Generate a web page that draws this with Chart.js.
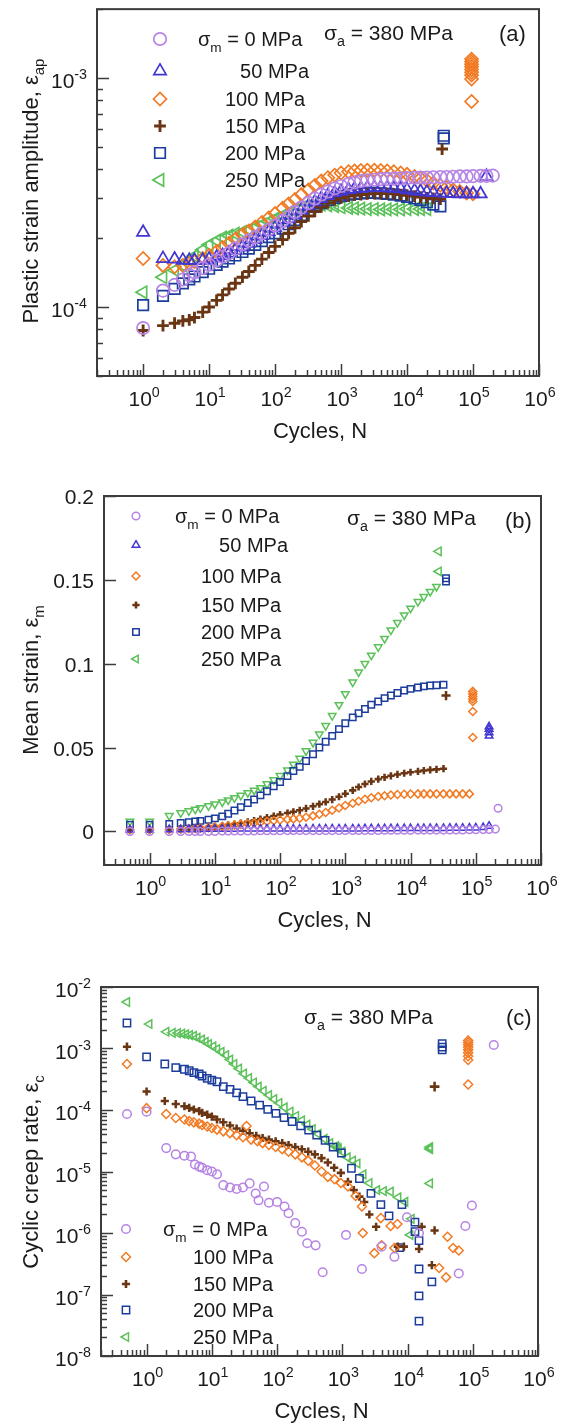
<!DOCTYPE html>
<html>
<head>
<meta charset="utf-8">
<title>Cyclic creep, σa = 380 MPa</title>
<script src="https://cdn.jsdelivr.net/npm/chart.js@4.4.1/dist/chart.umd.min.js"></script>
<style>
  html, body { margin: 0; padding: 0; background: #fff; }
  #page { position: relative; width: 565px; height: 1426px; overflow: hidden; }
  #page canvas { position: absolute; left: 0; }
</style>
</head>
<body>
<div id="page">
  <canvas id="chartA"></canvas>
  <canvas id="chartB"></canvas>
  <canvas id="chartC"></canvas>
</div>
<script>
// ---------------------------------------------------------------
// Data
// ---------------------------------------------------------------

// (a) plastic strain amplitude, values in units of 1e-4
const AMP_UNIT = 1e-4;
const cyclesA = [1, 2, 3, 4, 5, 6, 8, 10, 13, 16, 20, 25, 32, 40, 50, 63, 80, 100, 130, 160,
  200, 250, 320, 400, 500, 630, 800, 1000, 1300, 1600, 2000, 2500, 3200, 4000, 5000, 6300, 8000,
  10000, 13000, 16000, 20000, 25000, 32000, 40000, 50000, 63000, 80000, 100000, 130000, 160000, 200000];
const ampS0 = [0.81, 1.18, 1.25, 1.32, 1.38, 1.42, 1.48, 1.53, 1.6, 1.66, 1.72, 1.8, 1.88, 1.95, 2.02, 2.1,
  2.18, 2.27, 2.38, 2.48, 2.6, 2.72, 2.85, 2.98, 3.1, 3.2, 3.3, 3.38, 3.45, 3.5, 3.55, 3.58, 3.6, 3.62,
  3.63, 3.64, 3.65, 3.66, 3.67, 3.68, 3.68, 3.69, 3.7, 3.7, 3.71, 3.72, 3.72, 3.73, 3.74, 3.74, 3.75];
const ampS50 = [2.12, 1.63, 1.62, 1.6, 1.6, 1.6, 1.6, 1.62, 1.65, 1.68, 1.72, 1.77, 1.83, 1.9, 1.97, 2.05,
  2.13, 2.22, 2.33, 2.43, 2.53, 2.65, 2.77, 2.88, 2.98, 3.07, 3.15, 3.2, 3.25, 3.28, 3.3, 3.32, 3.33, 3.33,
  3.32, 3.3, 3.28, 3.25, 3.22, 3.2, 3.18, 3.16, 3.15, 3.14, 3.13, 3.12, 3.12, 3.12, 3.12, 3.72, null];
const ampS100 = [1.63, 1.52, 1.5, 1.52, 1.55, 1.58, 1.63, 1.68, 1.75, 1.82, 1.9, 1.98, 2.07, 2.15, 2.24, 2.34,
  2.45, 2.56, 2.7, 2.82, 2.95, 3.1, 3.25, 3.4, 3.55, 3.67, 3.77, 3.85, 3.9, 3.93, 3.95, 3.96, 3.96, 3.95,
  3.93, 3.9, 3.85, 3.8, 3.72, 3.65, 3.57, 3.48, 3.4, 3.33, 3.25, 3.2, 3.15, 3.12, null, null, null];
const ampS150 = [0.79, 0.83, 0.85, 0.87, 0.88, 0.9, 0.95, 1.0, 1.07, 1.13, 1.2, 1.27, 1.35, 1.43, 1.52, 1.62,
  1.73, 1.84, 1.97, 2.1, 2.22, 2.36, 2.5, 2.62, 2.74, 2.85, 2.94, 3.0, 3.05, 3.08, 3.1, 3.12, 3.13, 3.13,
  3.13, 3.12, 3.1, 3.08, 3.05, 3.02, 3.0, 2.98, 2.96, null, null, null, null, null, null, null, null];
const ampS200 = [1.02, 1.12, 1.2, 1.27, 1.32, 1.36, 1.42, 1.47, 1.53, 1.58, 1.63, 1.68, 1.74, 1.8, 1.87, 1.94,
  2.02, 2.1, 2.2, 2.3, 2.4, 2.52, 2.63, 2.74, 2.84, 2.93, 3.0, 3.05, 3.1, 3.12, 3.14, 3.15, 3.15, 3.14,
  3.12, 3.1, 3.07, 3.03, 2.98, 2.93, 2.87, 2.8, 2.75, null, null, null, null, null, null, null, null];
const ampS250 = [1.16, 1.35, 1.45, 1.52, 1.6, 1.67, 1.78, 1.87, 1.95, 2.01, 2.05, 2.09, 2.13, 2.18, 2.23, 2.29,
  2.36, 2.43, 2.51, 2.59, 2.66, 2.72, 2.77, 2.8, 2.8, 2.78, 2.76, 2.73, 2.71, 2.7, 2.69, 2.68, 2.68, 2.67,
  2.67, 2.67, 2.67, 2.68, 2.68, 2.68, 2.68, null, null, null, null, null, null, null, null, null, null];
// last cycles before failure
const ampEnd100N = 95000, ampEnd100 = [7.9, 9.9, 10.3, 10.6, 10.9, 11.2, 11.5, 11.8, 12.1];
const ampEnd150N = 34000, ampEnd150 = [4.9];
const ampEnd200N = 36000, ampEnd200 = [5.45, 5.6];

// (b) mean strain
const cyclesB = [0.5, 1, 2, 3, 4, 5, 6, 8, 10, 13, 16, 20, 25, 32, 40, 50, 63, 80, 100, 130, 160, 200, 250,
  320, 400, 500, 630, 800, 1000, 1300, 1600, 2000, 2500, 3200, 4000, 5000, 6300, 8000, 10000, 13000,
  16000, 20000, 25000, 32000, 40000, 50000, 63000, 80000, 100000, 130000, 160000, 200000];
const meanS0 = [0, 0, 0, 0, 0, 0, 0, 0, 0, 0.0002, 0.0002, 0.0003, 0.0003, 0.0003, 0.0003, 0.0004, 0.0004,
  0.0004, 0.0004, 0.0005, 0.0005, 0.0005, 0.0005, 0.0005, 0.0005, 0.0005, 0.0005, 0.0005, 0.0006, 0.0006,
  0.0006, 0.0006, 0.0006, 0.0006, 0.0007, 0.0007, 0.0007, 0.0007, 0.0007, 0.0008, 0.0008, 0.0008, 0.0008,
  0.0008, 0.0009, 0.0009, 0.0009, 0.001, 0.001, 0.0011, 0.0012, 0.0014];
const meanS50 = [0.001, 0.001, 0.0012, 0.0012, 0.0013, 0.0013, 0.0013, 0.0014, 0.0014, 0.0014, 0.0014, 0.0014,
  0.0015, 0.0015, 0.0015, 0.0015, 0.0015, 0.0015, 0.0015, 0.0015, 0.0015, 0.0015, 0.0016, 0.0016, 0.0016,
  0.0016, 0.0016, 0.0016, 0.0016, 0.0016, 0.0016, 0.0017, 0.0017, 0.0017, 0.0017, 0.0017, 0.0018, 0.0018,
  0.0018, 0.0018, 0.0018, 0.0019, 0.0019, 0.0019, 0.002, 0.002, 0.002, 0.0021, 0.0022, 0.0024, 0.0032, null];
const meanS100 = [0.001, 0.001, 0.0012, 0.0014, 0.0016, 0.0018, 0.002, 0.0023, 0.0026, 0.003, 0.0034, 0.0038,
  0.0042, 0.0046, 0.005, 0.0054, 0.0059, 0.0064, 0.0068, 0.0072, 0.0075, 0.0079, 0.0085, 0.0093, 0.0103,
  0.0113, 0.0126, 0.014, 0.0155, 0.0168, 0.018, 0.0192, 0.0201, 0.0208, 0.0213, 0.0217, 0.022, 0.0222,
  0.0223, 0.0224, 0.0224, 0.0224, 0.0224, 0.0224, 0.0224, 0.0224, 0.0224, 0.0224, null, null, null, null];
const meanS150 = [0.001, 0.001, 0.0012, 0.0015, 0.0018, 0.002, 0.0022, 0.0026, 0.003, 0.0034, 0.0039, 0.0044,
  0.005, 0.0057, 0.0065, 0.0074, 0.0083, 0.0092, 0.0101, 0.011, 0.0117, 0.0126, 0.0137, 0.015, 0.0163,
  0.0176, 0.019, 0.0207, 0.0225, 0.0245, 0.0265, 0.0283, 0.0298, 0.0312, 0.0323, 0.0332, 0.034, 0.0347,
  0.0353, 0.0358, 0.0363, 0.0367, 0.037, 0.0374, null, null, null, null, null, null, null, null];
const meanS200 = [0.004, 0.004, 0.0045, 0.005, 0.0055, 0.006, 0.0063, 0.007, 0.0078, 0.009, 0.0105, 0.0125,
  0.0145, 0.017, 0.019, 0.0215, 0.024, 0.027, 0.0295, 0.033, 0.036, 0.0385, 0.042, 0.046, 0.05, 0.0535,
  0.057, 0.061, 0.0645, 0.068, 0.0705, 0.073, 0.0755, 0.0775, 0.0795, 0.081, 0.0825, 0.084, 0.085, 0.0858,
  0.0865, 0.087, 0.0872, 0.0875, null, null, null, null, null, null, null, null];
const meanS250 = [0.006, 0.006, 0.0094, 0.011, 0.0122, 0.0132, 0.014, 0.0152, 0.0163, 0.0175, 0.0187, 0.02,
  0.0215, 0.023, 0.0245, 0.026, 0.0283, 0.0307, 0.0332, 0.0365, 0.04, 0.0435, 0.048, 0.053, 0.058, 0.063,
  0.069, 0.0755, 0.082, 0.089, 0.095, 0.1, 0.105, 0.11, 0.115, 0.12, 0.1245, 0.129, 0.133, 0.137, 0.14,
  0.143, 0.146, null, null, null, null, null, null, null, null, null];
const meanEnd0N = 220000, meanEnd0 = [0.0138];
const meanEnd50N = 160000, meanEnd50 = [0.057, 0.059, 0.061, 0.0625];
const meanEnd100N = 90000, meanEnd100 = [0.056, 0.0715, 0.0775, 0.079, 0.0805, 0.082, 0.0835];
const meanEnd150N = 35000, meanEnd150 = [0.081];
const meanEnd200N = 35000, meanEnd200 = [0.149, 0.151];
const meanEnd250N = 27000, meanEnd250 = [0.155, 0.167];

// (c) cyclic creep rate
const rateS0N = [0.5, 1, 2, 2.8, 3.8, 4.8, 5.5, 6.4, 7.1, 8.5, 10, 12, 15, 19, 24, 30, 38, 47, 52, 63, 75, 100,
  130, 150, 190, 240, 290, 390, 500, 1140, 2000, 4000, 6300, 9800, 15000, 61000, 77000, 97000];
const rateS0 = [8.6e-5, 9.4e-5, 2.4e-5, 1.9e-5, 1.8e-5, 1.75e-5, 1.3e-5, 1.2e-5, 1.15e-5, 1.05e-5, 1.0e-5,
  9e-6, 6e-6, 5.5e-6, 5.2e-6, 5.5e-6, 6.4e-6, 4.4e-6, 3.4e-6, 5.7e-6, 3.1e-6, 3.2e-6, 2.7e-6, 2.1e-6,
  1.45e-6, 1.05e-6, 6.8e-7, 6.3e-7, 2.3e-7, 9.3e-7, 2.6e-7, 6e-7, 4.1e-7, 1.8e-6, 1e-6, 2.2e-7, 1.3e-6, 2.8e-6];
const rateS100N = [0.5, 1, 2, 2.8, 3.8, 4.5, 5.3, 6.4, 7.1, 8.5, 10, 12, 15, 19, 24, 30, 34, 40, 50, 60, 75, 95,
  120, 150, 190, 240, 300, 380, 480, 600, 760, 950, 1220, 1600, 2000, 2060, 3100, 3900, 4000, 5500, 6300,
  7000, 30500, 39000, 41000, 50000, 61000];
const rateS100 = [5.6e-4, 1.07e-4, 8.6e-5, 7.4e-5, 7e-5, 6.6e-5, 6.3e-5, 6e-5, 5.7e-5, 5.4e-5, 5.1e-5, 4.8e-5,
  4.5e-5, 4.2e-5, 3.9e-5, 3.6e-5, 5.5e-5, 3.3e-5, 3.1e-5, 2.9e-5, 2.7e-5, 2.5e-5, 2.3e-5, 2.1e-5, 1.9e-5,
  1.7e-5, 1.5e-5, 1.25e-5, 1.0e-5, 8.2e-6, 7.5e-6, 6.5e-6, 5.7e-6, 4e-6, 2.7e-6, 1.0e-6, 4.7e-7, 1.75e-6,
  6.3e-7, 1.3e-6, 5.7e-7, 1.4e-6, 2.7e-7, 1.9e-7, 8.7e-7, 5.7e-7, 5.2e-7];
const rateS150N = [0.5, 1, 1.9, 2.8, 3.8, 4.5, 5.3, 6.4, 7.1, 8.5, 10, 12, 15, 19, 24, 30, 38, 48, 60, 75, 95,
  120, 150, 190, 240, 300, 380, 480, 600, 750, 950, 1220, 1500, 1830, 2170, 2600, 3300, 7100, 8800, 15000,
  16500, 23600, 26000];
const rateS150 = [1.07e-3, 2.0e-4, 1.4e-4, 1.25e-4, 1.15e-4, 1.08e-4, 1.02e-4, 9.6e-5, 9e-5, 8.4e-5, 7.8e-5,
  7e-5, 6.3e-5, 5.6e-5, 5e-5, 4.6e-5, 4.2e-5, 3.8e-5, 3.5e-5, 3.3e-5, 3.1e-5, 2.9e-5, 2.7e-5, 2.5e-5, 2.3e-5,
  2.1e-5, 1.9e-5, 1.65e-5, 1.4e-5, 1.15e-5, 9.5e-6, 6.8e-6, 5e-6, 3.9e-6, 3.2e-6, 2e-6, 1.26e-6, 6e-7, 6e-7,
  5.5e-7, 1.26e-6, 3e-7, 1.1e-6];
const rateS200N = [0.5, 1, 1.9, 2.8, 3.8, 4.5, 5.3, 6.4, 7.1, 8.5, 10, 12, 15, 19, 24, 30, 40, 54, 72, 96, 128,
  170, 230, 305, 405, 545, 725, 970, 1380, 1830, 2750, 3900, 5200, 8200, 13000, 13000, 15000, 7600, 15000,
  23600, 15000, 15000];
const rateS200 = [2.6e-3, 7.3e-4, 5.6e-4, 4.9e-4, 4.6e-4, 4.35e-4, 4.05e-4, 3.85e-4, 3.57e-4, 3.27e-4, 3.07e-4,
  2.88e-4, 2.4e-4, 2.17e-4, 1.9e-4, 1.65e-4, 1.4e-4, 1.2e-4, 1.02e-4, 8.8e-5, 7.5e-5, 6.5e-5, 5.5e-5, 4.7e-5,
  3.9e-5, 3.2e-5, 2.5e-5, 2.0e-5, 1.13e-5, 7.7e-6, 4.4e-6, 2.9e-6, 1.9e-6, 2.9e-6, 1.5e-6, 1.05e-6, 7.5e-7,
  5.8e-7, 2.6e-7, 1.6e-7, 9.5e-8, 3.7e-8];
const rateS250N = [0.5, 1.1, 2, 2.5, 3, 3.5, 4, 4.6, 5.3, 6, 7, 8, 9, 10.5, 12, 14, 16.5, 19, 22, 26, 31, 37,
  44, 52, 62, 75, 90, 108, 130, 160, 195, 240, 290, 350, 430, 530, 650, 800, 840, 880, 1000, 1200, 1450,
  1700, 2100, 2600, 3400, 4300, 5500, 7200, 9200, 11500, 11000];
const rateS250 = [5.7e-3, 2.5e-3, 1.87e-3, 1.8e-3, 1.78e-3, 1.75e-3, 1.7e-3, 1.65e-3, 1.6e-3, 1.5e-3, 1.4e-3,
  1.28e-3, 1.18e-3, 1.08e-3, 9.8e-4, 8.8e-4, 7.8e-4, 6.6e-4, 5.6e-4, 4.7e-4, 3.9e-4, 3.3e-4, 2.8e-4, 2.4e-4,
  2.05e-4, 1.75e-4, 1.5e-4, 1.3e-4, 1.1e-4, 9.4e-5, 8e-5, 6.8e-5, 5.8e-5, 4.9e-5, 4.1e-5, 3.4e-5, 2.9e-5,
  2.6e-5, 2.45e-5, 2.35e-5, 2.1e-5, 1.7e-5, 1.5e-5, 1.35e-5, 9e-6, 6.5e-6, 5e-6, 4.8e-6, 4.7e-6, 3.8e-6,
  3.2e-6, 1.7e-6, 9.3e-7];
const rateEnd0N = 210000, rateEnd0 = [1.14e-3];
const rateEnd100N = 85000, rateEnd100 = [2.6e-4, 6.5e-4, 7.5e-4, 8.5e-4, 9.5e-4, 1.05e-3, 1.15e-3, 1.25e-3, 1.35e-3];
const rateEnd150N = 26000, rateEnd150 = [2.4e-4];
const rateEnd200N = 34000, rateEnd200 = [9.5e-4, 1.05e-3, 1.2e-3];
const rateEnd250N = 22000, rateEnd250 = [6.4e-6, 2.3e-5, 2.4e-5, 2.5e-5];

// axis ticks
const xLabelExps = [0, 1, 2, 3, 4, 5, 6];
const ampLabelExps = [-4, -3];
const rateLabelExps = [-8, -7, -6, -5, -4, -3, -2];
const meanTicks = [0, 0.05, 0.1, 0.15, 0.2];
const meanTickLabels = ['0', '0.05', '0.1', '0.15', '0.2'];

// ---------------------------------------------------------------
// Styling
// ---------------------------------------------------------------
const FONT = '"Liberation Sans", Arial, Helvetica, sans-serif';
const INK = '#1b1b1b';
const AXIS = '#3c3c3c';

const MARKERS = {
  s0:   { color: '#b684e4', pointStyle: 'circle',   k: 1.0 },
  s50:  { color: '#4236d2', pointStyle: 'triangle', k: 1.15 },
  s100: { color: '#f27a22', pointStyle: 'rectRot',  k: 1.05 },
  s150: { color: '#6a3512', pointStyle: 'cross',    k: 0.95, wide: 1.7 },
  s200: { color: '#1d3d9c', pointStyle: 'rect',     k: 1.2 },
  s250: { color: '#5cc15a', pointStyle: 'triangle', k: 1.15, rot: -90 }
};

function points(xs, ys, unit) {
  const out = [];
  ys.forEach((v, i) => {
    if (v !== null) out.push({ x: Array.isArray(xs) ? xs[i] : xs, y: v * unit });
  });
  return out;
}

function dataset(key, data, r, bw, rot) {
  const m = MARKERS[key];
  return {
    data: data,
    pointStyle: m.pointStyle,
    pointRadius: r * m.k,
    pointRotation: rot !== undefined ? rot : (m.rot || 0),
    pointBorderWidth: bw * (m.wide || 1),
    borderColor: m.color,
    pointBorderColor: m.color,
    backgroundColor: 'rgba(0,0,0,0)',
    pointBackgroundColor: 'rgba(0,0,0,0)',
    showLine: false
  };
}

// ---------------------------------------------------------------
// Drawing helpers (axes are drawn by hand: inward ticks, 10^n labels)
// ---------------------------------------------------------------
function setFont(ctx, size) { ctx.font = size + 'px ' + FONT; }

function richWidth(ctx, parts, size) {
  let w = 0;
  parts.forEach(([t, k]) => { setFont(ctx, k ? size * 0.68 : size); w += ctx.measureText(t).width; });
  return w;
}

function drawRich(ctx, parts, x, y, size, align) {
  const w = richWidth(ctx, parts, size);
  let cx = align === 'right' ? x - w : align === 'center' ? x - w / 2 : x;
  ctx.textAlign = 'left';
  ctx.textBaseline = 'alphabetic';
  parts.forEach(([t, k]) => {
    setFont(ctx, k ? size * 0.68 : size);
    const dy = k === 'sub' ? size * 0.28 : k === 'sup' ? -size * 0.42 : 0;
    ctx.fillText(t, cx, y + dy);
    cx += ctx.measureText(t).width;
  });
}

function logTicks(min, max) {
  const out = [];
  for (let d = Math.floor(Math.log10(min)); d <= Math.ceil(Math.log10(max)); d++) {
    for (let m = 1; m <= 9; m++) {
      const v = Number(m + 'e' + d);
      if (v >= min * 0.999 && v <= max * 1.001) out.push({ v: v, major: m === 1 });
    }
  }
  return out;
}

function drawMarker(ctx, ds, x, y, rot) {
  ctx.save();
  ctx.strokeStyle = ds.pointBorderColor;
  ctx.fillStyle = 'rgba(0,0,0,0)';
  ctx.lineWidth = ds.pointBorderWidth;
  Chart.helpers.drawPoint(ctx, {
    pointStyle: ds.pointStyle,
    rotation: rot !== undefined ? rot : ds.pointRotation,
    radius: ds.pointRadius,
    borderWidth: ds.pointBorderWidth
  }, x, y);
  ctx.restore();
}

function makeDeco(cfg) {
  return {
    id: 'deco' + cfg.id,
    afterDraw(chart) {
      const ctx = chart.ctx;
      const a = chart.chartArea;
      const xs = chart.scales.x, ys = chart.scales.y;
      const oy = cfg.top;
      ctx.save();
      ctx.fillStyle = INK;
      ctx.strokeStyle = AXIS;

      // inward ticks on bottom and left
      ctx.lineWidth = 1.5;
      logTicks(xs.min, xs.max).forEach(t => {
        const px = Math.round(xs.getPixelForValue(t.v)) + 0.5;
        ctx.beginPath();
        ctx.moveTo(px, a.bottom);
        ctx.lineTo(px, a.bottom - (t.major ? 12 : 6));
        ctx.stroke();
      });
      const yt = cfg.yLog ? logTicks(ys.min, ys.max) : meanTicks.map(v => ({ v: v, major: true }));
      yt.forEach(t => {
        const py = Math.round(ys.getPixelForValue(t.v)) + 0.5;
        ctx.beginPath();
        ctx.moveTo(a.left, py);
        ctx.lineTo(a.left + (t.major ? 12 : 6), py);
        ctx.stroke();
      });

      // frame
      ctx.lineWidth = 2;
      ctx.strokeRect(a.left, a.top, a.right - a.left, a.bottom - a.top);

      // x tick labels
      xLabelExps.forEach(e => {
        const px = xs.getPixelForValue(Math.pow(10, e));
        drawRich(ctx, [['10', ''], [String(e), 'sup']], px + 1, a.bottom + 30, 21, 'center');
      });
      // y tick labels
      if (cfg.yLog) {
        cfg.yLabelExps.forEach(e => {
          const py = ys.getPixelForValue(Math.pow(10, e));
          drawRich(ctx, [['10', ''], [String(e), 'sup']], a.left - 10, py + 10, 21, 'right');
        });
      } else {
        meanTicks.forEach((v, i) => {
          const py = ys.getPixelForValue(v);
          drawRich(ctx, [[meanTickLabels[i], '']], a.left - 10, py + 8, 21, 'right');
        });
      }

      // axis titles
      drawRich(ctx, [['Cycles, N', '']], (a.left + a.right) / 2 + 2, a.bottom + 62, 22, 'center');
      ctx.save();
      ctx.translate(cfg.yTitleX, cfg.yTitleY - oy);
      ctx.rotate(-Math.PI / 2);
      drawRich(ctx, cfg.yTitle, 0, 8, 22, 'center');
      ctx.restore();

      // annotations
      drawRich(ctx, [['σ', ''], ['a', 'sub'], [' = 380 MPa', '']], cfg.sigmaX, cfg.sigmaY - oy + 7, 21, 'left');
      drawRich(ctx, [[cfg.letter, '']], cfg.letterX, cfg.letterY - oy + 8, 22, 'left');

      // legend
      cfg.legend.forEach((row, i) => {
        const ds = chart.data.datasets[row.ds];
        const y = cfg.legendRows[i] - oy;
        drawMarker(ctx, ds, cfg.legendMarkerX, y, row.rot);
        ctx.fillStyle = INK;
        drawRich(ctx, row.parts, row.x, y + 7, 20, row.align);
      });
      ctx.restore();
    }
  };
}

function buildPanel(cfg) {
  const canvas = document.getElementById(cfg.id);
  canvas.width = 565;
  canvas.height = cfg.height;
  canvas.style.width = '565px';
  canvas.style.height = cfg.height + 'px';
  canvas.style.top = cfg.top + 'px';
  const a = cfg.area;
  new Chart(canvas.getContext('2d'), {
    type: 'scatter',
    data: { datasets: cfg.datasets },
    options: {
      responsive: false,
      animation: false,
      devicePixelRatio: 1,
      layout: {
        padding: { left: a.left, right: 565 - a.right, top: a.top - cfg.top, bottom: cfg.top + cfg.height - a.bottom }
      },
      scales: {
        x: { type: 'logarithmic', min: 0.2, max: 1e6, display: false },
        y: { type: cfg.yLog ? 'logarithmic' : 'linear', min: cfg.yMin, max: cfg.yMax, display: false }
      },
      plugins: { legend: { display: false }, tooltip: { enabled: false } }
    },
    plugins: [makeDeco(cfg)]
  });
}

const sigmaM0 = [['σ', ''], ['m', 'sub'], [' = 0 MPa', '']];

// (a)
const rA = 6.2, bwA = 1.7;
buildPanel({
  id: 'chartA', top: 0, height: 450,
  area: { left: 97, top: 6, right: 539, bottom: 376 },
  yLog: true, yMin: 5e-5, yMax: 2e-3, yLabelExps: ampLabelExps,
  yTitle: [['Plastic strain amplitude, ε', ''], ['ap', 'sub']], yTitleX: 30, yTitleY: 191,
  sigmaX: 324, sigmaY: 33, letter: '(a)', letterX: 499, letterY: 33,
  legendMarkerX: 160, legendRows: [39, 71, 99, 126, 153, 180],
  legend: [
    { ds: 0, parts: sigmaM0, x: 198, align: 'left' },
    { ds: 1, parts: [['50 MPa', '']], x: 309, align: 'right' },
    { ds: 2, parts: [['100 MPa', '']], x: 305, align: 'right' },
    { ds: 3, parts: [['150 MPa', '']], x: 305, align: 'right' },
    { ds: 4, parts: [['200 MPa', '']], x: 305, align: 'right' },
    { ds: 5, parts: [['250 MPa', '']], x: 305, align: 'right' }
  ],
  datasets: [
    dataset('s0', points(cyclesA, ampS0, AMP_UNIT), rA, bwA),
    dataset('s50', points(cyclesA, ampS50, AMP_UNIT), rA, bwA),
    dataset('s100', points(cyclesA, ampS100, AMP_UNIT), rA, bwA),
    dataset('s150', points(cyclesA, ampS150, AMP_UNIT), rA, bwA),
    dataset('s200', points(cyclesA, ampS200, AMP_UNIT), rA, bwA),
    dataset('s250', points(cyclesA, ampS250, AMP_UNIT), rA, bwA),
    dataset('s100', points(ampEnd100N, ampEnd100, AMP_UNIT), rA, bwA),
    dataset('s150', points(ampEnd150N, ampEnd150, AMP_UNIT), rA, bwA),
    dataset('s200', points(ampEnd200N, ampEnd200, AMP_UNIT), rA, bwA)
  ]
});

// (b)
const rB = 3.8, bwB = 1.5;
buildPanel({
  id: 'chartB', top: 450, height: 490,
  area: { left: 104, top: 496, right: 541, bottom: 865 },
  yLog: false, yMin: -0.02, yMax: 0.2,
  yTitle: [['Mean strain, ε', ''], ['m', 'sub']], yTitleX: 30, yTitleY: 680,
  sigmaX: 347, sigmaY: 518, letter: '(b)', letterX: 505, letterY: 520,
  legendMarkerX: 136, legendRows: [516, 545, 576, 605, 632, 659],
  legend: [
    { ds: 0, parts: sigmaM0, x: 175, align: 'left' },
    { ds: 1, parts: [['50 MPa', '']], x: 288, align: 'right' },
    { ds: 2, parts: [['100 MPa', '']], x: 281, align: 'right' },
    { ds: 3, parts: [['150 MPa', '']], x: 281, align: 'right' },
    { ds: 4, parts: [['200 MPa', '']], x: 281, align: 'right' },
    { ds: 5, parts: [['250 MPa', '']], x: 281, align: 'right', rot: -90 }
  ],
  datasets: [
    dataset('s0', points(cyclesB, meanS0, 1), rB, bwB),
    dataset('s50', points(cyclesB, meanS50, 1), rB, bwB),
    dataset('s100', points(cyclesB, meanS100, 1), rB, bwB),
    dataset('s150', points(cyclesB, meanS150, 1), rB, bwB),
    dataset('s200', points(cyclesB, meanS200, 1), rB, bwB),
    dataset('s250', points(cyclesB, meanS250, 1), rB, bwB, 180),
    dataset('s0', points(meanEnd0N, meanEnd0, 1), rB, bwB),
    dataset('s50', points(meanEnd50N, meanEnd50, 1), rB, bwB),
    dataset('s100', points(meanEnd100N, meanEnd100, 1), rB, bwB),
    dataset('s150', points(meanEnd150N, meanEnd150, 1), rB + 1, bwB),
    dataset('s200', points(meanEnd200N, meanEnd200, 1), rB, bwB),
    dataset('s250', points(meanEnd250N, meanEnd250, 1), rB + 0.5, bwB)
  ]
});

// (c)
const rC = 4.3, bwC = 1.5;
buildPanel({
  id: 'chartC', top: 940, height: 486,
  area: { left: 101, top: 987, right: 538, bottom: 1356 },
  yLog: true, yMin: 1e-8, yMax: 1e-2, yLabelExps: rateLabelExps,
  yTitle: [['Cyclic creep rate, ε', ''], ['c', 'sub']], yTitleX: 30, yTitleY: 1172,
  sigmaX: 304, sigmaY: 1017, letter: '(c)', letterX: 506, letterY: 1017,
  legendMarkerX: 126, legendRows: [1229, 1257, 1284, 1310, 1337],
  legend: [
    { ds: 0, parts: sigmaM0, x: 163, align: 'left' },
    { ds: 1, parts: [['100 MPa', '']], x: 273, align: 'right' },
    { ds: 2, parts: [['150 MPa', '']], x: 273, align: 'right' },
    { ds: 3, parts: [['200 MPa', '']], x: 273, align: 'right' },
    { ds: 4, parts: [['250 MPa', '']], x: 273, align: 'right' }
  ],
  datasets: [
    dataset('s0', points(rateS0N, rateS0, 1), rC, bwC),
    dataset('s100', points(rateS100N, rateS100, 1), rC, bwC),
    dataset('s150', points(rateS150N, rateS150, 1), rC, bwC),
    dataset('s200', points(rateS200N, rateS200, 1), rC, bwC),
    dataset('s250', points(rateS250N, rateS250, 1), rC, bwC),
    dataset('s0', points(rateEnd0N, rateEnd0, 1), rC, bwC),
    dataset('s100', points(rateEnd100N, rateEnd100, 1), rC, bwC),
    dataset('s150', points(rateEnd150N, rateEnd150, 1), rC + 0.8, bwC),
    dataset('s200', points(rateEnd200N, rateEnd200, 1), rC, bwC),
    dataset('s250', points(rateEnd250N, rateEnd250, 1), rC, bwC)
  ]
});
</script>
</body>
</html>
